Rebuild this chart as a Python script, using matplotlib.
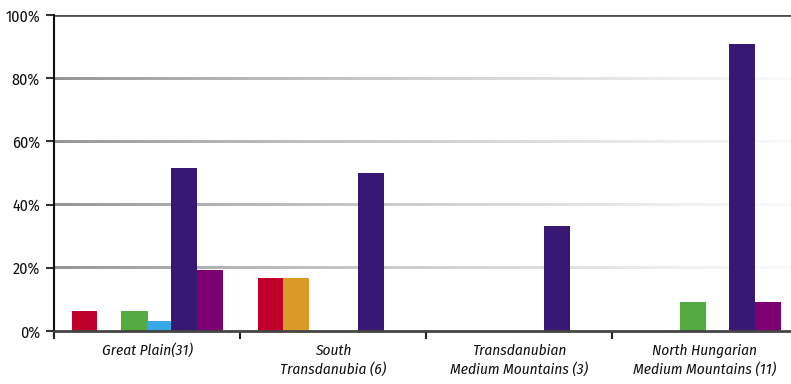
import numpy as np
import matplotlib
matplotlib.use("Agg")
import matplotlib.pyplot as plt
from matplotlib import font_manager

categories = ["Great Plain(31)", "South\nTransdanubia (6)",
              "Transdanubian\nMedium Mountains (3)", "North Hungarian\nMedium Mountains (11)"]
series_red = [6.45, 16.67, 0, 0]
series_orange = [0, 16.67, 0, 0]
series_green = [6.45, 0, 0, 9.09]
series_blue = [3.23, 0, 0, 0]
series_indigo = [51.6, 50.0, 33.3, 90.9]
series_purple = [19.35, 0, 0, 9.09]
y_ticks = [0, 20, 40, 60, 80, 100]
y_labels = ["0%", "20%", "40%", "60%", "80%", "100%"]

colors = ["#C0002A", "#DA9A25", "#55AA42", "#36A8E6", "#371874", "#7D0073"]
all_series = [series_red, series_orange, series_green, series_blue, series_indigo, series_purple]

names = {f.name for f in font_manager.fontManager.ttflist}
fam = "DejaVu Sans"
for cand in ["Fira Sans Condensed", "Open Sans Condensed", "Roboto Condensed",
             "Asap Condensed", "Barlow Condensed"]:
    if cand in names:
        fam = cand
        break
plt.rcParams['font.family'] = [fam, 'DejaVu Sans']

fig = plt.figure(figsize=(7.91, 3.84), dpi=100)
W, H = 791, 384
ax = fig.add_axes([54 / W, 1 - 331 / H, (W - 54) / W, (331 - 15) / H])
xmax = (W - 54) / 186

# gradient gridlines
n = 400
t = np.linspace(0, 1, n)
g = 0.58 + (0.985 - 0.58) * t ** 0.8
grad = np.repeat(np.stack([g, g, g], axis=-1)[None, :, :], 2, axis=0)
for yv in [20, 40, 60, 80]:
    ax.imshow(grad, extent=[0, xmax, yv - 0.45, yv + 0.45], aspect="auto",
              interpolation="bilinear", zorder=1)

ax.set_xlim(0, xmax)
ax.set_ylim(0, 100)
ax.axhline(100, color="#505050", lw=2.0, zorder=1)

slot = 25 / 186
off = 18 / 186
x = np.arange(len(categories))
for i, (vals, c) in enumerate(zip(all_series, colors)):
    ax.bar(x + off + slot * (i + 0.5), vals, width=slot * 1.04, color=c, zorder=3, linewidth=0)

for s in ["top", "right"]:
    ax.spines[s].set_visible(False)
ax.spines["bottom"].set_color("#444444")
ax.spines["bottom"].set_linewidth(2.0)
ax.spines["bottom"].set_zorder(4)
ax.spines["left"].set_color("#111111")
ax.spines["left"].set_linewidth(1.5)

ax.set_yticks(y_ticks)
ax.set_yticklabels(y_labels, fontsize=11.5, color="#111111")
ax.tick_params(axis="y", length=6, width=1.5, color="#333333", pad=4)

ax.set_xticks([0, 1, 2, 3])
ax.set_xticklabels([])
ax.tick_params(axis="x", length=5.5, width=1.5, color="#222222", direction="out")
ax.set_xticks(x + 0.5, minor=True)
ax.set_xticklabels(categories, minor=True, fontsize=11, style="italic",
                   color="#111111", linespacing=1.4)
ax.tick_params(axis="x", which="minor", length=0, pad=9)

fig.savefig("out.png", dpi=100)
